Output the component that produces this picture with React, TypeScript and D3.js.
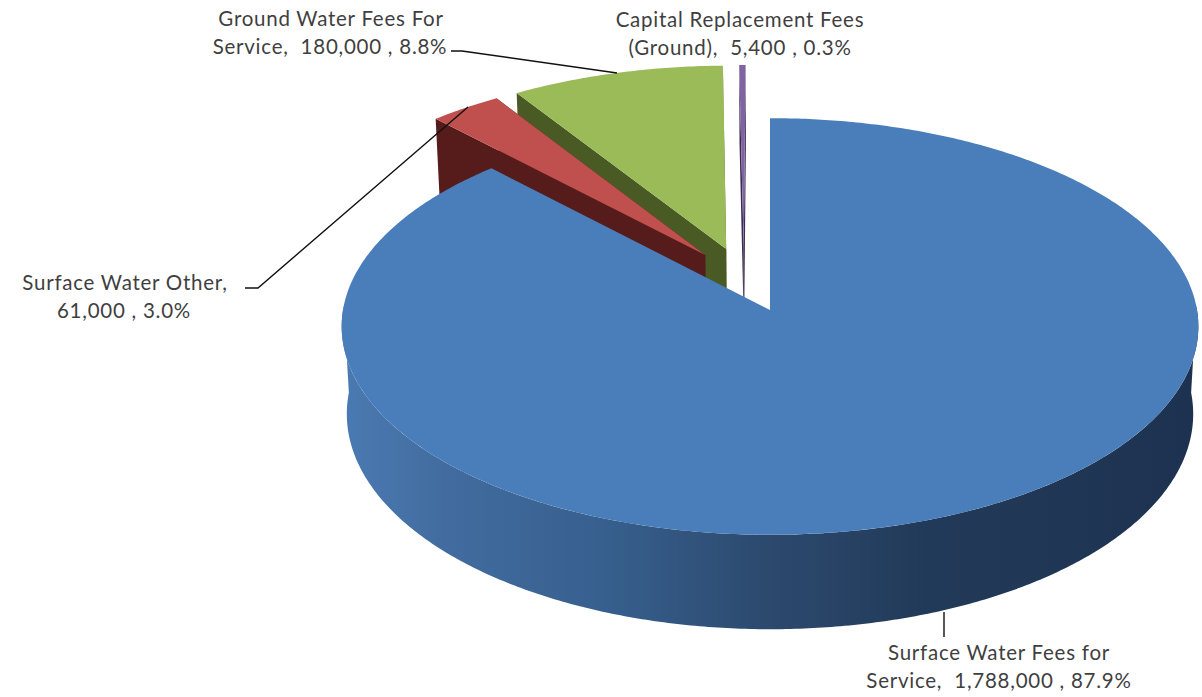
import React from "react";
import * as d3 from "d3";

// Annual fee revenue by source
const categories = [
  "Surface Water Fees for Service",
  "Surface Water Other",
  "Ground Water Fees For Service",
  "Capital Replacement Fees (Ground)",
];
const revenue = [1788000, 61000, 180000, 5400];
const labelBreaks = [
  ["Surface Water Fees for", "Service,"],
  ["Surface Water Other,", ""],
  ["Ground Water Fees For", "Service,"],
  ["Capital Replacement Fees", "(Ground),"],
];

const faceColors = ["#4a7ebb", "#c0504d", "#9bbb59", "#8064a2"];
const cutColors = ["#254061", "#561c1b", "#4a5a25", "#3b2c52"];

// Exploded offset of each slice on the pie's plane, in radii
const explode: [number, number][] = [
  [0, 0],
  [-0.155, 0.272],
  [-0.105, 0.302],
  [-0.063, 0.306],
];

// Camera: the plane is seen from above, with perspective along its depth
const CX = 770;
const CY = 310;
const F = 427;
const G = 207;
const K = 0.079;
const DEPTH = 87;
const LOWER_SCALE = 0.988;

type P = [number, number];

function project(x: number, z: number, lower = false): P {
  const w = 1 + K * z;
  const s = lower ? LOWER_SCALE : 1;
  return [CX + (s * F * x) / w, CY + (-G * z + (lower ? DEPTH : 0)) / w];
}

const polar = (a: number, o: [number, number]): [number, number] => [
  Math.sin(a) + o[0],
  Math.cos(a) + o[1],
];

function arcPoints(a0: number, a1: number, o: [number, number], lower = false): P[] {
  const n = Math.max(2, Math.ceil(Math.abs(a1 - a0) / 0.01));
  return d3.range(n + 1).map((i) => {
    const [x, z] = polar(a0 + ((a1 - a0) * i) / n, o);
    return project(x, z, lower);
  });
}

const path = d3.line<P>().curve(d3.curveLinear);

const arcs = d3
  .pie<number>()
  .sort(null)
  .startAngle(0)
  .endAngle(2 * Math.PI)(revenue);
const total = d3.sum(revenue);
const fmtValue = d3.format(",");
const fmtShare = d3.format(".1%");
const valueText = (i: number) => `${fmtValue(revenue[i])} , ${fmtShare(revenue[i] / total)}`;

function cutFace(a: number, o: [number, number]): P[] {
  const [x, z] = polar(a, o);
  return [project(o[0], o[1]), project(x, z), project(x, z, true), project(o[0], o[1], true)];
}

function Slice({ i }: { i: number }) {
  const { startAngle: a0, endAngle: a1 } = arcs[i];
  const o = explode[i];
  const face: P[] = [project(o[0], o[1]), ...arcPoints(a0, a1, o)];
  return (
    <g>
      {i > 0 && <path d={path(cutFace(a0, o))! + "Z"} fill={cutColors[i]} />}
      {i > 0 && <path d={path(cutFace(a1, o))! + "Z"} fill={cutColors[i]} />}
      <path d={path(face)! + "Z"} fill={faceColors[i]} />
    </g>
  );
}

// Outer rim of the large slice, from its right extreme around the front to its left extreme
function rimPath(): string {
  const a0 = Math.PI * 0.5;
  const a1 = Math.PI * 1.5;
  const top = arcPoints(a0 - 0.02, a1 + 0.02, explode[0]);
  const low = arcPoints(a1 + 0.02, a0 - 0.02, explode[0], true);
  return path([...top, ...low])! + "Z";
}

const textProps = {
  fontFamily: "Lato, 'Noto Sans', sans-serif",
  fontSize: 20.5,
  letterSpacing: 0.75,
  fill: "#3f3f3f",
  textAnchor: "middle" as const,
};

function Label({ x, y, children }: { x: number; y: number; children: string }) {
  return (
    <text x={x} y={y} xmlSpace="preserve" style={{ whiteSpace: "pre" }}>
      {children}
    </text>
  );
}

const wallStops: [number, string][] = [
  [0, "#4a7ab2"],
  [0.12, "#426c9f"],
  [0.3, "#37608f"],
  [0.48, "#2d4b70"],
  [0.68, "#223a59"],
  [1, "#1d3250"],
];

const leaderStroke = { fill: "none", stroke: "#111", strokeWidth: 1.4 };
const leaderA: P[] = [[944, 612], [944, 637]];
const leaderB: P[] = [[245, 288], [258, 288], [468, 107]];
const leaderC: P[] = [[451, 51], [462, 51], [617, 73]];

export default function App() {
  return (
    <svg
      width={1202}
      height={697}
      viewBox="0 0 1202 697"
      style={{ position: "absolute", left: 0, top: 0, background: "#fff" }}
    >
      <defs>
        <linearGradient id="wall" gradientUnits="userSpaceOnUse" x1={343} x2={1199} y1={0} y2={0}>
          {wallStops.map(([o, c]) => (
            <stop key={o} offset={o} stopColor={c} />
          ))}
        </linearGradient>
      </defs>

      <Slice i={2} />
      <Slice i={1} />
      <Slice i={3} />
      <path d={rimPath()} fill="url(#wall)" />
      <Slice i={0} />

      <path d={path(leaderA)!} {...leaderStroke} />
      <path d={path(leaderB)!} {...leaderStroke} />
      <path d={path(leaderC)!} {...leaderStroke} />

      <g {...textProps}>
        <Label x={331} y={26}>{labelBreaks[2][0]}</Label>
        <Label x={330} y={54}>{`${labelBreaks[2][1]}  ${valueText(2)}`}</Label>
        <Label x={740} y={27}>{labelBreaks[3][0]}</Label>
        <Label x={740} y={55}>{`${labelBreaks[3][1]}  ${valueText(3)}`}</Label>
        <Label x={125} y={290}>{labelBreaks[1][0]}</Label>
        <Label x={124} y={318}>{valueText(1)}</Label>
        <Label x={999} y={660}>{labelBreaks[0][0]}</Label>
        <Label x={999} y={688}>{`${labelBreaks[0][1]}  ${valueText(0)}`}</Label>
      </g>
    </svg>
  );
}
